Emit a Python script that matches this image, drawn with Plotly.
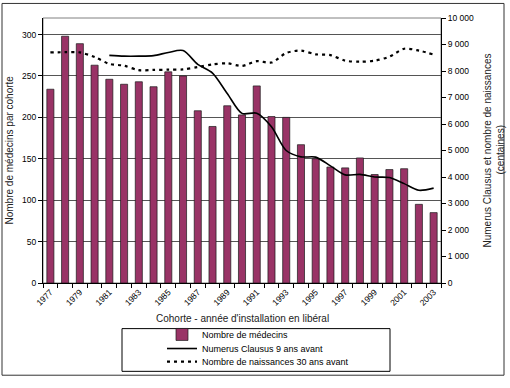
import plotly.graph_objects as go

# ---- data ----
years = list(range(1977, 2004))
medecins = [234, 298, 289, 263, 246, 240, 243, 237, 255, 250, 208, 189, 214, 203,
            238, 201, 200, 167, 150, 140, 139, 151, 131, 137, 138, 95, 85]
nc_years = list(range(1981, 2004))
numerus = [8590, 8560, 8560, 8580, 8700, 8770, 8250, 7920, 7150, 6400, 6410, 5900,
           5000, 4760, 4750, 4420, 4080, 4100, 4000, 3980, 3750, 3500, 3580]
naissances = [8700, 8710, 8700, 8530, 8270, 8200, 8030, 8040, 8050, 8060, 8150, 8250,
              8290, 8190, 8370, 8320, 8680, 8770, 8630, 8600, 8390, 8350, 8390, 8540,
              8840, 8770, 8620]
tick_years = years[::2]
left_ticks = [0, 50, 100, 150, 200, 250, 300]
right_ticks = list(range(0, 10001, 1000))
series_names = ["Nombre de médecins", "Numerus Clausus 9 ans avant",
                "Nombre de naissances 30 ans avant"]
x_title = "Cohorte - année d'installation en libéral"
y_title = "Nombre de médecins par cohorte"
y2_title = ["Numerus Clausus et nombre de naissances", "(centaines)"]

FONT = "Liberation Sans, Arial, sans-serif"
W, H = 510, 388
L, R, T, B = 43, 69, 18, 97
PW, PH = W - L - R, H - T - B


def fx(px):
    return (px - L) / PW


def fy(py):
    return (H - B - py) / PH


fig = go.Figure()
fig.add_trace(go.Bar(
    x=years, y=medecins, name=series_names[0],
    marker=dict(color="#993366", line=dict(color="#1a1a1a", width=0.7)),
    width=0.48, legend="legend", yaxis="y"))
fig.add_trace(go.Scatter(
    x=nc_years, y=numerus, name=series_names[1], mode="lines",
    line=dict(color="black", width=1.6, shape="spline", smoothing=0.8),
    legend="legend2", yaxis="y2"))
fig.add_trace(go.Scatter(
    x=years, y=naissances, name=series_names[2], mode="lines",
    line=dict(color="black", width=2.2, dash="3px,4px", shape="spline", smoothing=0.8),
    legend="legend3", yaxis="y2"))

leg_common = dict(bgcolor="rgba(0,0,0,0)", borderwidth=0, xanchor="left",
                  yanchor="middle", font=dict(family=FONT, size=9, color="black"))

title_font = dict(family=FONT, size=10, color="#222222")

fig.update_layout(
    width=W, height=H,
    margin=dict(l=L, r=R, t=T, b=B, pad=0),
    paper_bgcolor="white", plot_bgcolor="white",
    separators=", ",
    font=dict(family=FONT, size=9, color="black"),
    showlegend=True,
    legend=dict(x=fx(162), y=fy(344), **leg_common),
    legend2=dict(x=fx(162), y=fy(358.5), **leg_common),
    legend3=dict(x=fx(162), y=fy(372), **leg_common),
    xaxis=dict(
        range=[1976.5, 2003.5], tickvals=tick_years,
        ticktext=[str(y) for y in tick_years], tickangle=-45,
        ticks="", showgrid=False, zeroline=False, automargin=False,
        showline=True, linecolor="black", linewidth=1,
        tickfont=dict(family=FONT, size=8.5),
        minor=dict(tick0=1976.5, dtick=1, ticks="outside", ticklen=4,
                   tickcolor="black", showgrid=False)),
    yaxis=dict(
        range=[0, 320], tickvals=left_ticks, ticks="outside", ticklen=4,
        tickcolor="black", showline=True, linecolor="black", linewidth=1,
        showgrid=True, gridcolor="#555555", gridwidth=1, zeroline=False,
        automargin=False, tickfont=dict(family=FONT, size=8.5)),
    yaxis2=dict(
        range=[0, 10000], tickvals=right_ticks, tickformat=",d",
        overlaying="y", side="right", ticks="outside", ticklen=4,
        tickcolor="black", showline=True, linecolor="black", linewidth=1,
        showgrid=False, zeroline=False, automargin=False,
        tickfont=dict(family=FONT, size=8.5)),
    annotations=[
        dict(text=x_title, xref="paper", yref="paper", x=fx(242), y=fy(328),
             xanchor="center", yanchor="middle", showarrow=False, font=title_font),
        dict(text=y_title, xref="paper", yref="paper", x=fx(9), y=0.5,
             xanchor="center", yanchor="middle", textangle=-90, showarrow=False,
             font=title_font),
        dict(text=y2_title[0], xref="paper", yref="paper", x=fx(487), y=0.5,
             xanchor="center", yanchor="middle", textangle=-90, showarrow=False,
             font=title_font),
        dict(text=y2_title[1], xref="paper", yref="paper", x=fx(500), y=0.5,
             xanchor="center", yanchor="middle", textangle=-90, showarrow=False,
             font=title_font),
    ],
    shapes=[
        dict(type="rect", xref="paper", yref="paper", x0=0, x1=1, y0=0, y1=1,
             line=dict(color="#808080", width=1), layer="below"),
        dict(type="rect", xref="paper", yref="paper",
             x0=fx(122), x1=fx(390), y0=fy(382), y1=fy(338),
             line=dict(color="black", width=1)),
        dict(type="rect", xref="paper", yref="paper",
             x0=fx(2), x1=fx(504), y0=fy(386), y1=fy(3),
             line=dict(color="#333333", width=1)),
    ],
)

fig.write_html("out.html")
